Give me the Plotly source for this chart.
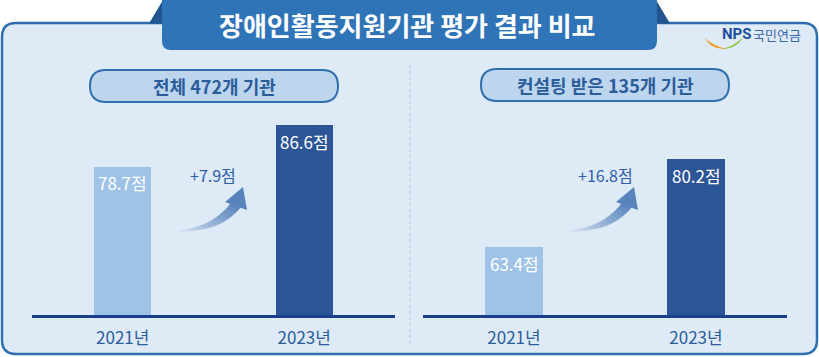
import plotly.graph_objects as go

# ---------------- data ----------------
year_labels = ["2021년", "2023년"]
all_scores = [78.7, 86.6]          # 전체 472개 기관
consult_scores = [63.4, 80.2]      # 컨설팅 받은 135개 기관
panel_titles = ["전체 472개 기관", "컨설팅 받은 135개 기관"]
chart_title = "장애인활동지원기관 평가 결과 비교"
unit = "점"

# ---------------- style ----------------
W, H = 819, 357
FONT = "Noto Sans CJK KR"
LIGHT_BAR = "#9fc3e7"
DARK_BAR = "#2c5597"
BASE = "#1b3d8e"
FRAME_FILL = "#deeaf6"
FRAME_LINE = "#2f6fae"
BANNER = "#2f74b7"
BANNER_DARK = "#22558f"
PILL_FILL = "#bdd6ee"
TXT = "#2c5d9b"


def X(px):
    return px / W


def Y(py):
    return 1 - py / H


def p(x, y):
    return f"{X(x):.5f},{Y(y):.5f}"


def rr(x0, y0, x1, y1, r_top, r_bot=None):
    if r_bot is None:
        r_bot = r_top
    s = f"M {p(x0 + r_top, y0)} L {p(x1 - r_top, y0)} "
    s += f"Q {p(x1, y0)} {p(x1, y0 + r_top)} " if r_top else ""
    s += f"L {p(x1, y1 - r_bot)} "
    s += f"Q {p(x1, y1)} {p(x1 - r_bot, y1)} " if r_bot else ""
    s += f"L {p(x0 + r_bot, y1)} "
    s += f"Q {p(x0, y1)} {p(x0, y1 - r_bot)} " if r_bot else ""
    s += f"L {p(x0, y0 + r_top)} "
    s += f"Q {p(x0, y0)} {p(x0 + r_top, y0)} " if r_top else ""
    return s + "Z"


def poly(points):
    return "M " + " L ".join(p(x, y) for x, y in points) + " Z"


shapes = []
# outer frame
shapes.append(dict(type="path", path=rr(2, 23, 817, 354, 14), xref="paper", yref="paper",
                   fillcolor=FRAME_FILL, line=dict(color=FRAME_LINE, width=2.5), layer="below"))
# banner side triangles
shapes.append(dict(type="path", path=poly([(149, 23.5), (163, 0), (163, 23.5)]), xref="paper", yref="paper",
                   fillcolor=BANNER_DARK, line=dict(width=0), layer="below"))
shapes.append(dict(type="path", path=poly([(656, 0), (670, 23.5), (656, 23.5)]), xref="paper", yref="paper",
                   fillcolor=BANNER_DARK, line=dict(width=0), layer="below"))
# banner
shapes.append(dict(type="path", path=rr(162, -2, 657, 50, 0, 9), xref="paper", yref="paper",
                   fillcolor=BANNER, line=dict(width=0), layer="below"))
# pills
shapes.append(dict(type="path", path=rr(90, 70, 338, 102, 16), xref="paper", yref="paper",
                   fillcolor=PILL_FILL, line=dict(color=FRAME_LINE, width=2), layer="below"))
shapes.append(dict(type="path", path=rr(481, 69, 729, 101, 16), xref="paper", yref="paper",
                   fillcolor=PILL_FILL, line=dict(color=FRAME_LINE, width=2), layer="below"))
# divider
shapes.append(dict(type="line", x0=X(410), x1=X(410), y0=Y(65), y1=Y(343), xref="paper", yref="paper",
                   line=dict(color="#b3c6dc", width=1, dash="dot"), layer="below"))

# NPS swoosh
shapes.append(dict(type="path", xref="paper", yref="paper", line=dict(width=0), fillcolor="#f39a1e",
                   path=f"M {p(705, 38)} Q {p(711, 50)} {p(727, 49)} Q {p(713, 46)} {p(705, 38)} Z"))
shapes.append(dict(type="path", xref="paper", yref="paper", line=dict(width=0), fillcolor="#8cc63f",
                   path=f"M {p(722, 49)} Q {p(737, 49)} {p(743, 37)} Q {p(735, 46)} {p(722, 49)} Z"))


# curved gradient arrows
def qpt(a, c, b, t):
    return ((1 - t) ** 2 * a[0] + 2 * (1 - t) * t * c[0] + t * t * b[0],
            (1 - t) ** 2 * a[1] + 2 * (1 - t) * t * c[1] + t * t * b[1])


def mix(c1, c2, t):
    return "rgb(%d,%d,%d)" % tuple(round(c1[i] + (c2[i] - c1[i]) * t) for i in range(3))


def add_arrow(dx):
    tail = (177 + dx, 231)
    low_c, low_e = (220 + dx, 233), (241 + dx, 207)
    up_c, up_e = (213 + dx, 227), (231 + dx, 203)
    c0, c1 = (215, 228, 242), (88, 132, 188)
    n = 14
    for i in range(n):
        t0, t1 = i / n, (i + 1) / n
        pts = [qpt(tail, low_c, low_e, t0), qpt(tail, low_c, low_e, t1),
               qpt(tail, up_c, up_e, t1), qpt(tail, up_c, up_e, t0)]
        col = mix(c0, c1, (t0 + t1) / 2)
        shapes.append(dict(type="path", path=poly(pts), xref="paper", yref="paper",
                           fillcolor=col, line=dict(width=0.3, color=col)))
    shapes.append(dict(type="path", path=poly([(225 + dx, 202), (243 + dx, 187), (247 + dx, 210)]),
                       xref="paper", yref="paper", fillcolor=mix(c0, c1, 1.0), line=dict(width=0)))


add_arrow(0)
add_arrow(391)

# ---------------- traces ----------------
y_range = [50.5, 50.5 + (315 - 110) / 5.25]
fig = go.Figure()
fig.add_trace(go.Bar(x=year_labels, y=all_scores, marker=dict(color=[LIGHT_BAR, DARK_BAR], line=dict(width=0)),
                     width=0.314, xaxis="x", yaxis="y", hoverinfo="skip"))
fig.add_trace(go.Bar(x=year_labels, y=consult_scores, marker=dict(color=[LIGHT_BAR, DARK_BAR], line=dict(width=0)),
                     width=0.314, xaxis="x2", yaxis="y2", hoverinfo="skip"))

annotations = []
for xr, yr, vals in (("x", "y", all_scores), ("x2", "y2", consult_scores)):
    for lab, v in zip(year_labels, vals):
        annotations.append(dict(x=lab, y=v, xref=xr, yref=yr, text=f"{v:.1f}{unit}", showarrow=False,
                                xanchor="center", yanchor="middle", yshift=-16,
                                font=dict(family=FONT, size=17, color="white")))

# differences
for cx, vals in ((213, all_scores), (605, consult_scores)):
    d = vals[1] - vals[0]
    annotations.append(dict(x=X(cx), y=Y(175), xref="paper", yref="paper", text=f"+{d:.1f}{unit}",
                            showarrow=False, xanchor="center", yanchor="middle",
                            font=dict(family=FONT, size=16, color="#2f5ea6")))

# titles
annotations.append(dict(x=X(407), y=Y(25), xref="paper", yref="paper", text=f"<b>{chart_title}</b>",
                        showarrow=False, xanchor="center", yanchor="middle",
                        font=dict(family=FONT, size=26, color="white")))
for cx, cy, t in ((214, 86, panel_titles[0]), (605, 85, panel_titles[1])):
    annotations.append(dict(x=X(cx), y=Y(cy), xref="paper", yref="paper", text=f"<b>{t}</b>",
                            showarrow=False, xanchor="center", yanchor="middle",
                            font=dict(family=FONT, size=18, color=TXT)))

# logo text
annotations.append(dict(x=X(720), y=Y(34), xref="paper", yref="paper", text="<b>NPS</b>", showarrow=False,
                        xanchor="left", yanchor="middle",
                        font=dict(family="Roboto", size=15, color="#1d4f9e")))
annotations.append(dict(x=X(751), y=Y(34), xref="paper", yref="paper", text="국민연금", showarrow=False,
                        xanchor="left", yanchor="middle",
                        font=dict(family=FONT, size=13, color="#3c66a6")))

xax = dict(type="category", categoryorder="array", categoryarray=year_labels, range=[-0.5, 1.5],
           tickfont=dict(family=FONT, size=17, color=TXT),
           ticks="outside", ticklen=6, tickcolor="rgba(0,0,0,0)",
           showline=True, linecolor=BASE, linewidth=3, showgrid=False, zeroline=False, fixedrange=True)
yax = dict(range=y_range, visible=False, showgrid=False, zeroline=False, fixedrange=True)

fig.update_layout(
    width=W, height=H, margin=dict(l=0, r=0, t=0, b=0),
    paper_bgcolor="white", plot_bgcolor="rgba(0,0,0,0)",
    showlegend=False, bargap=0,
    xaxis=dict(xax, domain=[X(32), X(395)], anchor="y"),
    yaxis=dict(yax, domain=[Y(315), Y(110)], anchor="x"),
    xaxis2=dict(xax, domain=[X(423), X(787)], anchor="y2"),
    yaxis2=dict(yax, domain=[Y(315), Y(110)], anchor="x2"),
    shapes=shapes, annotations=annotations,
    font=dict(family=FONT),
)

fig.write_html("out.html", config={"displayModeBar": False},
               post_script="document.body.style.margin='0';")
